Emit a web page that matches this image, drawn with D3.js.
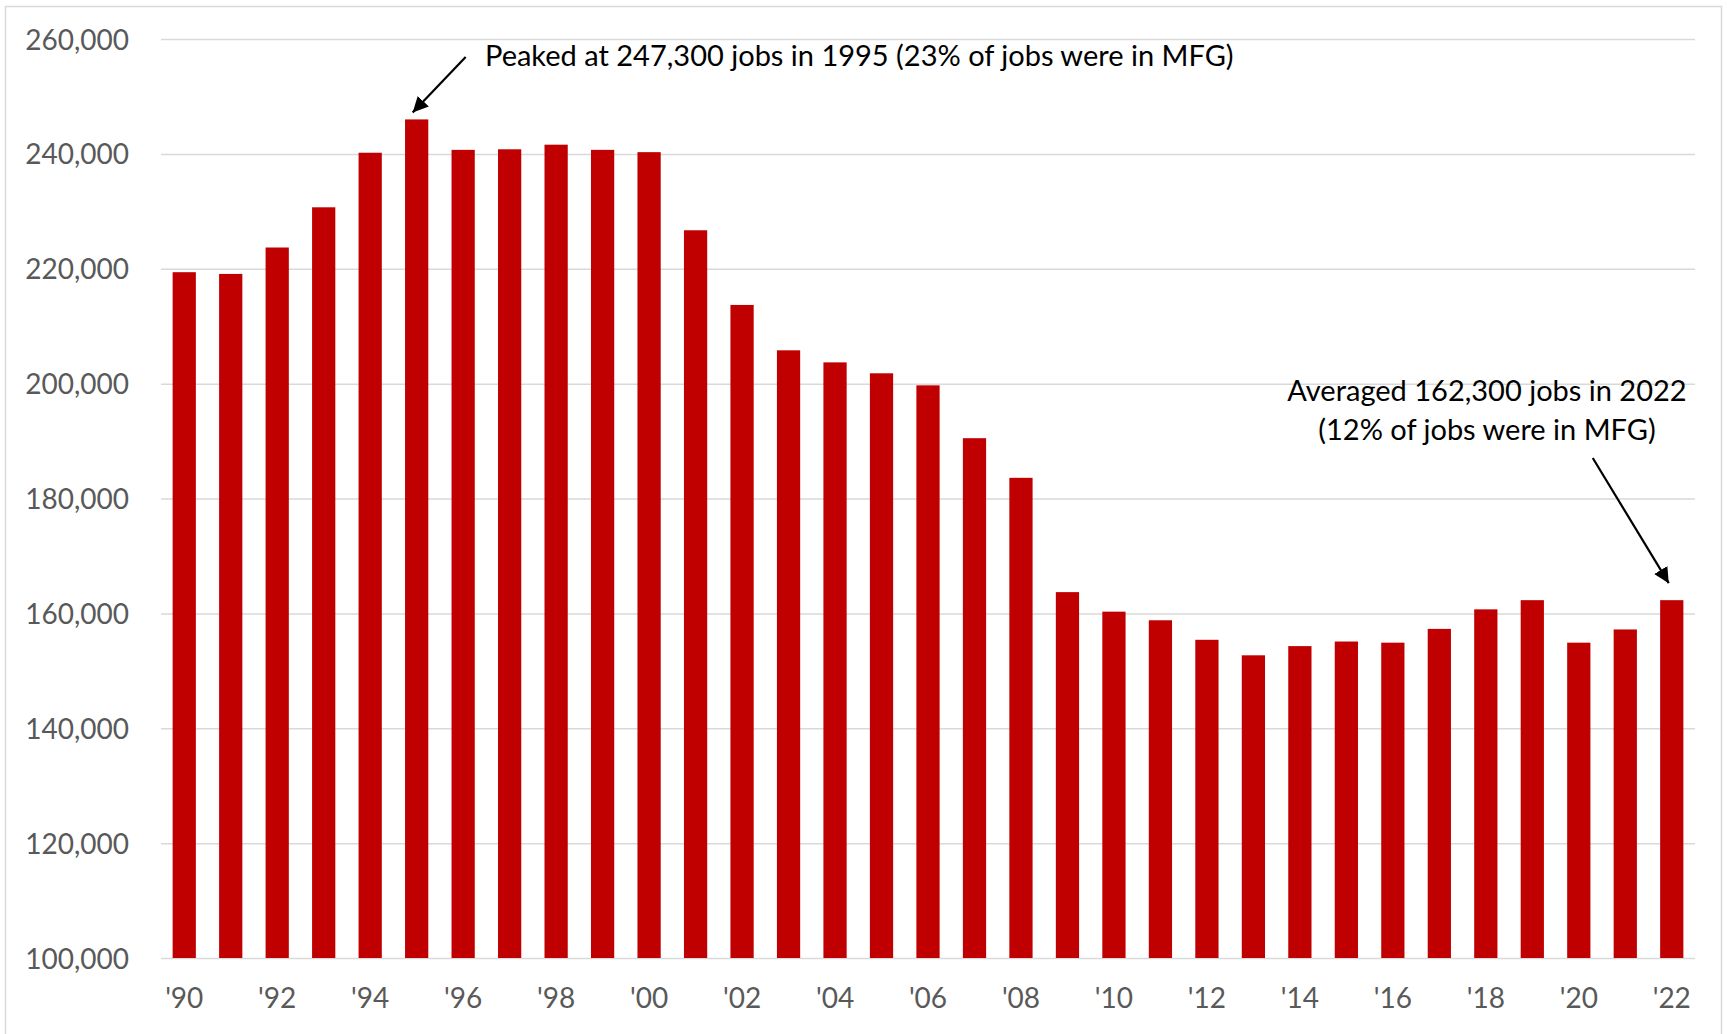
<!DOCTYPE html>
<html>
<head>
<meta charset="utf-8">
<script src="https://cdnjs.cloudflare.com/ajax/libs/d3/7.8.5/d3.min.js"></script>
<style>
  body { margin: 0; background: #fff; }
  text { font-family: Lato, "Open Sans", sans-serif; }
</style>
</head>
<body>
<div id="chart"></div>
<script>
// data (annual average manufacturing jobs)
let years = [1990, 1991, 1992, 1993, 1994, 1995, 1996, 1997, 1998, 1999,
  2000, 2001, 2002, 2003, 2004, 2005, 2006, 2007, 2008, 2009,
  2010, 2011, 2012, 2013, 2014, 2015, 2016, 2017, 2018, 2019,
  2020, 2021, 2022];
let jobs = [219400, 219100, 223700, 230700, 240200, 246000, 240700, 240800, 241600, 240700,
  240300, 226700, 213700, 205800, 203700, 201800, 199700, 190500, 183600, 163700,
  160300, 158800, 155400, 152700, 154300, 155100, 154900, 157300, 160700, 162300,
  154900, 157200, 162300];
let yTicks = [100000, 120000, 140000, 160000, 180000, 200000, 220000, 240000, 260000];
let xTickYears = [1990, 1992, 1994, 1996, 1998, 2000, 2002, 2004, 2006, 2008, 2010,
  2012, 2014, 2016, 2018, 2020, 2022];
let peakNote = 'Peaked at 247,300 jobs in 1995 (23% of jobs were in MFG)';
let lastNote = ['Averaged 162,300 jobs in 2022', '(12% of jobs were in MFG)'];

let svgWidth = 1727;
let svgHeight = 1034;

let margin = {
  top: 39,
  right: 32,
  bottom: 76,
  left: 161,
};

let width = svgWidth - margin.left - margin.right;
let height = svgHeight - margin.top - margin.bottom;

let svg = d3.select('#chart')
  .append('svg')
  .attr('width', svgWidth)
  .attr('height', svgHeight);

svg.append('rect')
  .attr('width', svgWidth)
  .attr('height', svgHeight)
  .attr('fill', '#fff');

// chart border
svg.append('rect')
  .attr('x', 5.5)
  .attr('y', 6.5)
  .attr('width', 1716)
  .attr('height', 1040)
  .attr('fill', 'none')
  .attr('stroke', '#d9d9d9')
  .attr('stroke-width', 1.5);

let chartGroup = svg.append('g')
  .attr('transform', `translate(${margin.left}, ${margin.top})`);

let xScale = d3.scaleBand()
  .domain(years)
  .range([0, width])
  .paddingInner(0.5)
  .paddingOuter(0.25);

let yScale = d3.scaleLinear()
  .domain([100000, 260000])
  .range([height, 0]);

// gridlines + y labels
let yAxis = chartGroup.append('g')
  .call(d3.axisLeft(yScale)
    .tickValues(yTicks)
    .tickSize(-width)
    .tickPadding(32)
    .tickFormat(d3.format(',')));

yAxis.select('.domain').remove();
yAxis.selectAll('line')
  .attr('stroke', '#d9d9d9')
  .attr('stroke-width', 1.5);
yAxis.selectAll('text')
  .attr('fill', '#595959')
  .attr('font-size', '28px')
  .attr('dy', '0.36em');

// bars
chartGroup.selectAll('.bar')
  .data(years)
  .enter()
  .append('rect')
  .classed('bar', true)
  .attr('x', d => xScale(d))
  .attr('y', (d, i) => yScale(jobs[i]))
  .attr('width', xScale.bandwidth())
  .attr('height', (d, i) => height - yScale(jobs[i]))
  .attr('fill', '#c00000');

// x labels
let xAxis = chartGroup.append('g')
  .attr('transform', `translate(0, ${height})`)
  .call(d3.axisBottom(xScale)
    .tickValues(xTickYears)
    .tickSize(0)
    .tickPadding(30)
    .tickFormat(d => "'" + String(d).slice(2)));

xAxis.select('.domain').remove();
xAxis.selectAll('text')
  .attr('fill', '#595959')
  .attr('font-size', '28px');

// arrow marker
svg.append('defs').append('marker')
  .attr('id', 'arrow')
  .attr('viewBox', '0 0 10 10')
  .attr('refX', 10)
  .attr('refY', 5)
  .attr('markerWidth', 7)
  .attr('markerHeight', 7)
  .attr('markerUnits', 'strokeWidth')
  .attr('orient', 'auto')
  .append('path')
  .attr('d', 'M0,0 L10,5 L0,10 z')
  .attr('fill', '#000');

// peak annotation
let peakX = xScale(1995) + xScale.bandwidth() / 2;
let peakY = yScale(jobs[5]);

chartGroup.append('line')
  .attr('x1', peakX + 49)
  .attr('y1', 57 - margin.top)
  .attr('x2', peakX - 4)
  .attr('y2', peakY - 7)
  .attr('stroke', '#000')
  .attr('stroke-width', 2.2)
  .attr('marker-end', 'url(#arrow)');

chartGroup.append('text')
  .attr('x', 485 - margin.left)
  .attr('y', 66 - margin.top)
  .attr('font-size', '29px')
  .attr('fill', '#000')
  .text(peakNote);

// 2022 annotation
let lastX = xScale(2022) + xScale.bandwidth() / 2;
let lastY = yScale(jobs[32]);

chartGroup.append('line')
  .attr('x1', lastX - 79)
  .attr('y1', 458 - margin.top)
  .attr('x2', lastX - 3)
  .attr('y2', lastY - 17)
  .attr('stroke', '#000')
  .attr('stroke-width', 2.2)
  .attr('marker-end', 'url(#arrow)');

chartGroup.selectAll('.note')
  .data(lastNote)
  .enter()
  .append('text')
  .classed('note', true)
  .attr('x', 1487 - margin.left)
  .attr('y', (d, i) => 401 - margin.top + i * 39)
  .attr('text-anchor', 'middle')
  .attr('font-size', '29px')
  .attr('fill', '#000')
  .text(d => d);
</script>
</body>
</html>
